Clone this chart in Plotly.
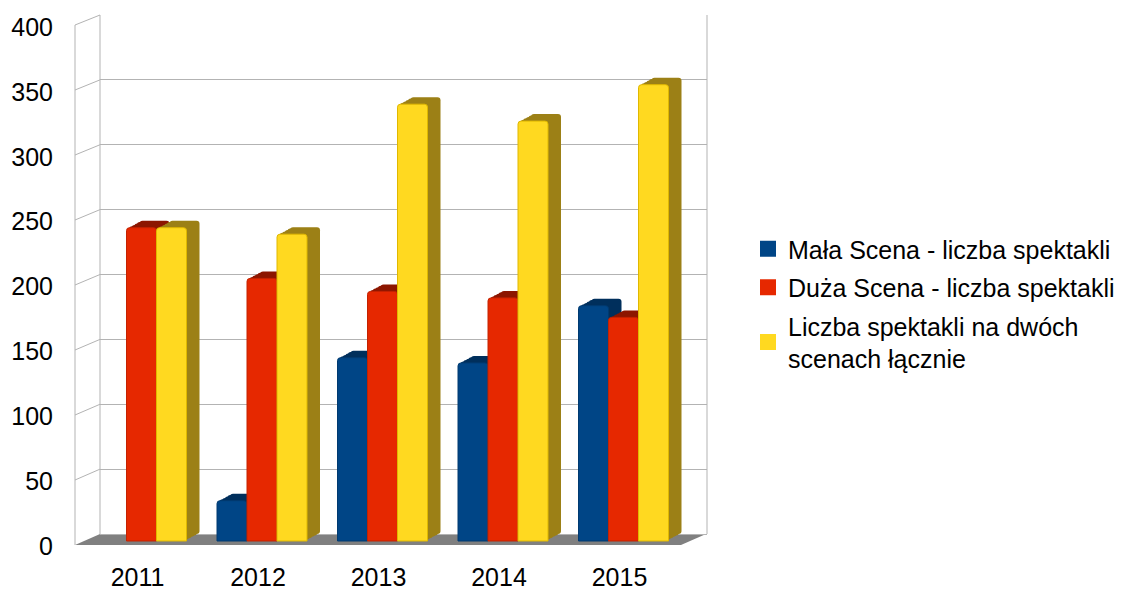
import plotly.graph_objects as go

# ---------------- data ----------------
years = ["2011", "2012", "2013", "2014", "2015"]
mala_scena = [0, 31, 141, 137, 181]
duza_scena = [241, 202, 192, 187, 172]
lacznie = [241, 236, 336, 323, 351]
series_names = [
    "Mała Scena - liczba spektakli",
    "Duża Scena - liczba spektakli",
    "Liczba spektakli na dwóch<br>scenach łącznie",
]
y_ticks = [0, 50, 100, 150, 200, 250, 300, 350, 400]

# ---------------- styling ----------------
FONT = "Liberation Sans, Arial, sans-serif"
front_colors = ["#004586", "#e62800", "#ffd920"]
edge_colors = ["#003a70", "#c42200", "#e0b800"]
side_colors = ["#002f5c", "#8c1600", "#9c8016"]
GRID = "#b3b3b3"

W, H = 1139, 591
PL, PR, PT, PB = 100, 707, 15, 546          # plot area (back wall) in px
PITCH = 120.5                                # px per category
C0 = 141.5                                   # px of first category centre
BAR_PX = 30.0
DEPTH_DX, DEPTH_DY = 13.0, 7.0               # 3D depth offset in px
BAR_SCALE = 1.3                              # px per unit for bars
BAR_ZERO = 541.0                             # px of bar base
GRID_ZERO, GRID_TOP = 534.0, 15.0            # back wall 0 and 400

xr = [(PL - C0) / PITCH, (PR - C0) / PITCH]
bw = BAR_PX / PITCH
y2r = [(BAR_ZERO - PB) / BAR_SCALE, (BAR_ZERO - PT) / BAR_SCALE]
gscale = (GRID_ZERO - GRID_TOP) / 400.0
yr = [(GRID_ZERO - PB) / gscale, 400]

series = [mala_scena, duza_scena, lacznie]
xs = list(range(len(years)))

fig = go.Figure()

# invisible trace so the gridded value axis is drawn
fig.add_trace(go.Scatter(x=[None], y=[None], yaxis="y", showlegend=False, hoverinfo="skip"))

# depth (side/top faces) drawn first as stacked shifted copies
STEPS = 5
for i, vals in enumerate(series):
    yv = [v if v else None for v in vals]
    base_off = -1.5 * bw + i * bw
    for k in range(1, STEPS + 1):
        f = k / STEPS
        fig.add_trace(go.Bar(
            x=xs, y=yv, base=f * DEPTH_DY / BAR_SCALE,
            offset=base_off + f * DEPTH_DX / PITCH, width=bw,
            marker=dict(color=side_colors[i], line=dict(width=0), cornerradius=3),
            yaxis="y2", showlegend=False, hoverinfo="skip",
        ))

# front faces
for i, vals in enumerate(series):
    yv = [v if v else None for v in vals]
    fig.add_trace(go.Bar(
        x=xs, y=yv, name=series_names[i],
        offset=-1.5 * bw + i * bw, width=bw,
        marker=dict(color=front_colors[i], line=dict(color=edge_colors[i], width=1),
                    cornerradius=3),
        yaxis="y2", showlegend=False, legendgroup=str(i),
    ))
    # legend entry with a square swatch
    fig.add_trace(go.Scatter(
        x=[None], y=[None], mode="markers", name=series_names[i],
        marker=dict(symbol="square", size=16, color=front_colors[i], line=dict(width=0)),
        yaxis="y2", legendgroup=str(i), showlegend=True,
    ))


def px(x):
    return (x - PL) / (PR - PL)


def py(y):
    return (PB - y) / (PB - PT)


shapes = []
# floor
FL, FR = 75.0, 681.0
shapes.append(dict(
    type="path", xref="paper", yref="paper",
    path=f"M {px(FL)},{py(545)} L {px(PL)},{py(GRID_ZERO)} L {px(706)},{py(GRID_ZERO)} L {px(FR)},{py(545)} Z",
    fillcolor="#808080", line=dict(width=0), layer="between",
))
# back wall side lines
for xx in (PL, PR):
    shapes.append(dict(type="line", xref="paper", yref="paper",
                       x0=px(xx), x1=px(xx), y0=py(GRID_ZERO), y1=py(GRID_TOP),
                       line=dict(color=GRID, width=1), layer="below"))
# left wall front edge
shapes.append(dict(type="line", xref="paper", yref="paper",
                   x0=px(FL), x1=px(FL), y0=py(545), y1=py(545 - 1.3 * 400),
                   line=dict(color=GRID, width=1), layer="below"))
# left wall slanted grid lines
for v in y_ticks[1:]:
    shapes.append(dict(type="line", xref="paper", yref="paper",
                       x0=px(FL), x1=px(PL), y0=py(545 - 1.3 * v), y1=py(GRID_ZERO - gscale * v),
                       line=dict(color=GRID, width=1), layer="below"))

fig.update_layout(
    width=W, height=H,
    margin=dict(l=PL, r=W - PR, t=PT, b=H - PB, autoexpand=False),
    paper_bgcolor="white", plot_bgcolor="white",
    barmode="overlay",
    font=dict(family=FONT, size=25, color="#000000"),
    xaxis=dict(range=xr, tickvals=xs, ticktext=years, showgrid=False, zeroline=False,
               showline=False, ticks="", ticklabelshift=-4, ticklabelstandoff=14,
               tickfont=dict(size=25), fixedrange=True, automargin=False),
    yaxis=dict(range=yr, tickvals=y_ticks, showgrid=True, gridcolor=GRID, gridwidth=1,
               zeroline=False, showline=False, ticks="", ticklabelshift=12,
               ticklabelstandoff=46, tickfont=dict(size=25), automargin=False),
    yaxis2=dict(range=y2r, overlaying="y", visible=False, showgrid=False, automargin=False),
    legend=dict(x=px(748), y=py(226), xanchor="left", yanchor="top",
                font=dict(size=25), bgcolor="rgba(0,0,0,0)", tracegroupgap=3),
    shapes=shapes,
    showlegend=True,
)

fig.write_html("out.html", config={"displayModeBar": False},
               post_script="document.body.style.margin='0';")
